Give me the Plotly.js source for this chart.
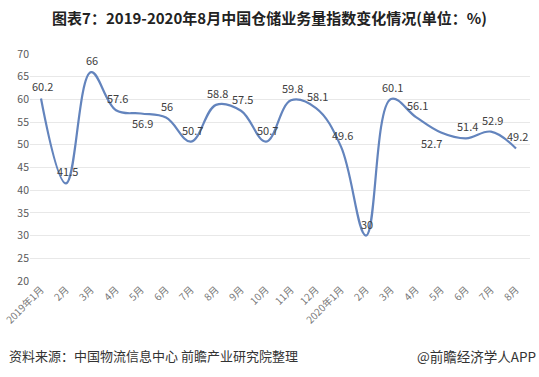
<!DOCTYPE html>
<html><head><meta charset="utf-8">
<script src="https://cdn.plot.ly/plotly-3.0.1.min.js"></script>
<style>body{margin:0;padding:0;background:#fff}#c{width:539px;height:377px}</style>
</head><body><div id="c"></div>
<script>
const months = ["2019年1月","2月","3月","4月","5月","6月","7月","8月","9月","10月","11月","12月","2020年1月","2月","3月","4月","5月","6月","7月","8月"];
const values = [60.2,41.5,66,57.6,56.9,56,50.7,58.8,57.5,50.7,59.8,58.1,49.6,30,60.1,56.1,52.7,51.4,52.9,49.2];
const labelBelow = [false,false,false,false,true,false,false,false,false,false,false,false,false,false,false,false,true,false,false,false];
const yTicks = [20,25,30,35,40,45,50,55,60,65,70];
const idx = months.map((_, i) => i);
const FONT = 'Noto Sans CJK SC, sans-serif';

const labels = values.map((v, i) => ({
  x: idx[i], y: v, xref: 'x', yref: 'y', text: String(v), showarrow: false,
  xanchor: 'center', yanchor: 'middle', yshift: labelBelow[i] ? -10 : 12,
  xshift: labelBelow[i] && i === 16 ? -10 : 1,
  font: {family: FONT, size: 11, color: '#404040'}
}));

Plotly.newPlot('c', [{
  x: idx, y: values, type: 'scatter', mode: 'lines',
  line: {color: '#6384bd', width: 2.2, shape: 'spline', smoothing: 1.1},
  hoverinfo: 'none'
}], {
  width: 539, height: 377,
  margin: {l: 30, r: 9, t: 54, b: 96},
  paper_bgcolor: '#fff', plot_bgcolor: '#fff',
  showlegend: false,
  title: {text: '<b>图表7：2019-2020年8月中国仓储业务量指数变化情况(单位：%)</b>',
    font: {family: FONT, size: 15, color: '#222'},
    x: 0.5, xanchor: 'center', y: 0.95, yanchor: 'middle'},
  xaxis: {tickmode: 'array', tickvals: idx, ticktext: months, tickangle: -45,
    range: [-0.44, 19.56], showgrid: false, zeroline: false, showline: false, ticks: '',
    ticklen: 4, tickfont: {family: FONT, size: 10, color: '#777'}},
  yaxis: {range: [20, 70], tickmode: 'array', tickvals: yTicks, showgrid: true,
    gridcolor: '#e8e8e8', gridwidth: 1, zeroline: false, showline: false, ticks: '',
    tickfont: {family: FONT, size: 10.5, color: '#595959'}},
  annotations: labels.concat([
    {text: '资料来源：中国物流信息中心 前瞻产业研究院整理', xref: 'paper', yref: 'paper',
     x: -0.046, y: -0.33, xanchor: 'left', yanchor: 'middle', showarrow: false,
     font: {family: FONT, size: 13, color: '#333'}},
    {text: '@前瞻经济学人APP', xref: 'paper', yref: 'paper',
     x: 1.016, y: -0.33, xanchor: 'right', yanchor: 'middle', showarrow: false,
     font: {family: FONT, size: 13.5, color: '#333'}}
  ])
}, {displayModeBar: false, staticPlot: true});
</script></body></html>
